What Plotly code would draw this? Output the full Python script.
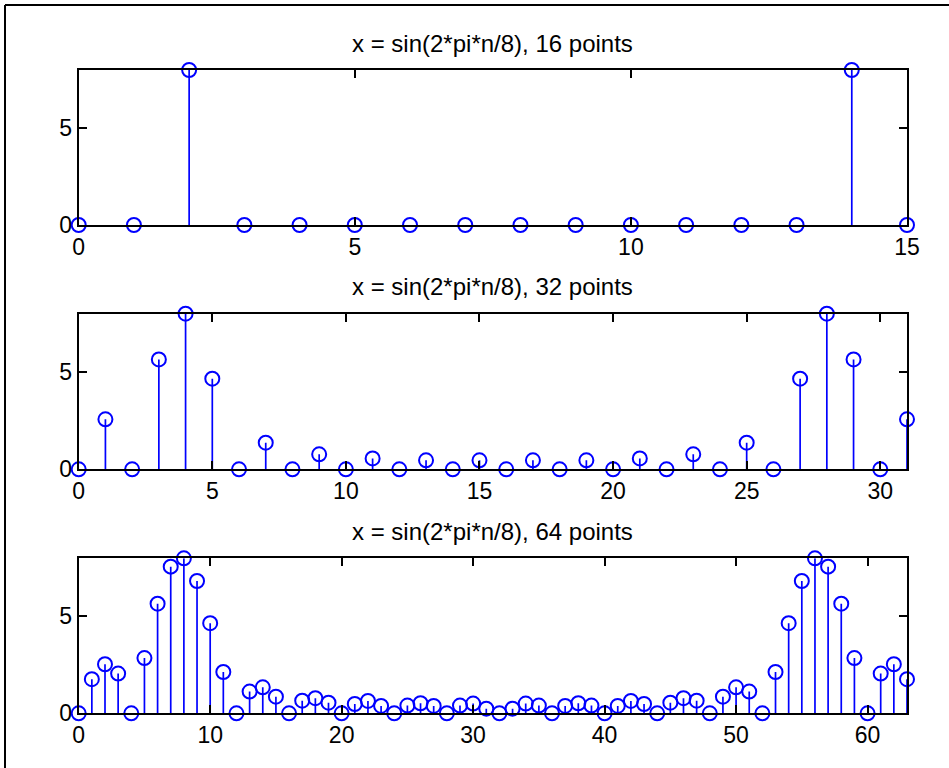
import plotly.graph_objects as go

# |FFT| magnitudes of x = sin(2*pi*n/8) for three transform lengths
k16 = list(range(16))
mag16 = [0, 0, 8.0, 0, 0, 0, 0, 0, 0, 0, 0, 0, 0, 0, 8.0, 0]

k32 = list(range(32))
mag32 = [0, 2.57, 0, 5.65, 8.0, 4.66, 0, 1.37,
         0, 0.77, 0, 0.56, 0, 0.46, 0, 0.46,
         0, 0.46, 0, 0.46, 0, 0.56, 0, 0.77,
         0, 1.37, 0, 4.66, 8.0, 5.65, 0, 2.57]

k64 = list(range(64))
mag64 = [0, 1.76, 2.53, 2.05, 0, 2.85, 5.66, 7.57,
         8.0, 6.83, 4.65, 2.13, 0, 1.12, 1.34, 0.86,
         0, 0.65, 0.78, 0.55, 0, 0.48, 0.64, 0.38,
         0, 0.40, 0.52, 0.38, 0, 0.40, 0.50, 0.24,
         0, 0.24, 0.50, 0.40, 0, 0.38, 0.52, 0.40,
         0, 0.38, 0.64, 0.48, 0, 0.55, 0.78, 0.65,
         0, 0.86, 1.34, 1.12, 0, 2.13, 4.65, 6.83,
         8.0, 7.57, 5.66, 2.85, 0, 2.05, 2.53, 1.76]

panels = [
    ("x = sin(2*pi*n/8), 16 points", k16, mag16, [0, 5, 10, 15]),
    ("x = sin(2*pi*n/8), 32 points", k32, mag32, [0, 5, 10, 15, 20, 25, 30]),
    ("x = sin(2*pi*n/8), 64 points", k64, mag64, [0, 10, 20, 30, 40, 50, 60]),
]
y_ticks = [0, 5]

W, H = 949, 768
BLUE = "#0000FF"
FONT = "Liberation Sans, Arial, Helvetica, sans-serif"

# axes boxes in pixels: (left, right, top, bottom)
boxes = [(78.7, 907, 70, 225), (78.7, 907, 313.7, 469.3), (78.7, 907, 558.3, 713.3)]

fig = go.Figure()
layout = dict(
    width=W, height=H, autosize=False,
    margin=dict(l=0, r=0, t=0, b=0),
    paper_bgcolor="white", plot_bgcolor="white",
    showlegend=False,
    font=dict(family=FONT, size=23, color="black"),
    annotations=[], shapes=[],
)

for i, (title, ks, mags, xt) in enumerate(panels):
    n = i + 1
    xa = "x" if n == 1 else f"x{n}"
    ya = "y" if n == 1 else f"y{n}"

    # stems from the baseline to each value
    sx, sy = [], []
    for k, m in zip(ks, mags):
        sx += [k, k, None]
        sy += [0, m, None]
    fig.add_trace(go.Scatter(x=sx, y=sy, mode="lines", xaxis=xa, yaxis=ya,
                             line=dict(color=BLUE, width=1.7),
                             hoverinfo="skip", cliponaxis=False))
    fig.add_trace(go.Scatter(x=ks, y=mags, mode="markers", xaxis=xa, yaxis=ya,
                             marker=dict(symbol="circle-open", size=14, color=BLUE,
                                         line=dict(width=2, color=BLUE)),
                             cliponaxis=False))

    l, r, t, b = boxes[i]
    axis_common = dict(showline=True, linecolor="black", linewidth=2, mirror="ticks",
                       ticks="inside", ticklen=8, tickwidth=1.5, tickcolor="black",
                       showgrid=False, zeroline=False, automargin=False,
                       tickfont=dict(family=FONT, size=23, color="black"))
    layout["xaxis" if n == 1 else f"xaxis{n}"] = dict(
        axis_common, domain=[l / W, r / W], range=[0, ks[-1]],
        tickvals=xt, anchor=ya)
    layout["yaxis" if n == 1 else f"yaxis{n}"] = dict(
        axis_common, domain=[1 - b / H, 1 - t / H], range=[0, 8],
        tickvals=y_ticks, anchor=xa)
    layout["annotations"].append(dict(
        text=title, xref="paper", yref="paper",
        x=(l + r) / 2 / W, y=1 - t / H, yshift=27,
        xanchor="center", yanchor="middle", showarrow=False,
        font=dict(family=FONT, size=24, color="black")))

# partial frame around the figure (top and left edges)
layout["shapes"] += [
    dict(type="line", xref="paper", yref="paper", x0=5 / W, x1=1, y0=1 - 5 / H, y1=1 - 5 / H,
         line=dict(color="black", width=2)),
    dict(type="line", xref="paper", yref="paper", x0=5 / W, x1=5 / W, y0=0, y1=1 - 5 / H,
         line=dict(color="black", width=2)),
]

fig.update_layout(**layout)
fig.write_html("out.html", config={"responsive": False},
               post_script="document.body.style.margin='0';"
                           "document.body.style.overflow='hidden';")
